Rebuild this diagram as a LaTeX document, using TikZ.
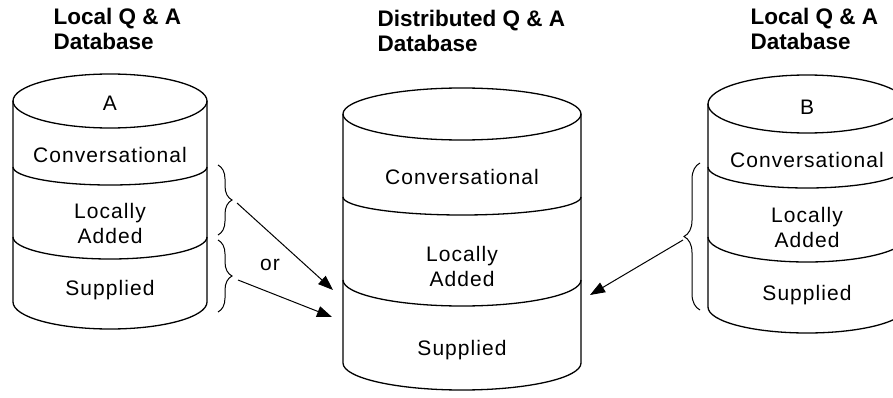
\documentclass[tikz,border=0pt]{standalone}
\usepackage{fontspec}
\setmainfont{Liberation Sans}
\usetikzlibrary{arrows.meta,decorations.pathreplacing}

\begin{document}
\begin{tikzpicture}[x=1pt,y=1pt,
  line width=1.3pt,
  lbl/.style={font=\fontsize{21}{25}\selectfont\addfontfeature{LetterSpace=5},
              align=center, inner sep=0pt},
  ttl/.style={font=\fontsize{22.5}{25}\selectfont\bfseries, align=left,
              anchor=base west, inner sep=0pt},
  brc/.style={decorate, decoration={brace, amplitude=#1}, line width=1pt},
  arr/.style={-{Triangle[length=15pt,width=11pt]}, line width=1pt}]
\useasboundingbox (0,0) rectangle (893,397);
\clip (0,0) rectangle (893,397);

% ---- local database A ----
\draw (110,296) ellipse (97 and 27);
\draw (13,296) -- (13,95) arc (180:360:97 and 27) -- (207,296);
\draw (13,230) arc (180:360:97 and 18);
\draw (13,160) arc (180:360:97 and 22);
\node[ttl] (tA) at (53,347) {Local Q \& A\\Database};
\node[lbl] (nA) at (110,294) {A};
\node[lbl] (aConv) at (110,242) {Conversational};
\node[lbl] (aLoc) at (110,174) {Locally\\Added};
\node[lbl] (aSup) at (110,107) {Supplied};

% ---- distributed database ----
\draw (462,283) ellipse (119 and 26);
\draw (343,283) -- (343,34) arc (180:360:119 and 27) -- (581,283);
\draw (343,200) arc (180:360:119 and 18);
\draw (343,117) arc (180:360:119 and 26);
\node[ttl] (tD) at (377,345) {Distributed Q \& A\\Database};
\node[lbl] (dConv) at (462,220) {Conversational};
\node[lbl] (dLoc) at (462,131) {Locally\\Added};
\node[lbl] (dSup) at (462,47) {Supplied};

% ---- local database B ----
\draw (807,293) ellipse (99 and 29);
\draw (708,293) -- (708,90) arc (180:360:99 and 26) -- (906,293);
\draw (708,230) arc (180:360:99 and 21);
\draw (708,160) arc (180:360:99 and 25);
\node[ttl] (tB) at (750,347) {Local Q \& A\\Database};
\node[lbl] (nB) at (807,290) {B};
\node[lbl] (bConv) at (807,237) {Conversational};
\node[lbl] (bLoc) at (807,170) {Locally\\Added};
\node[lbl] (bSup) at (807,102) {Supplied};

% ---- braces grouping the transferred sections ----
\draw[brc=14pt] (218,232) -- (218,162);
\draw[brc=14pt] (218,157) -- (218,85);
\draw[brc=16pt] (700,87) -- (700,234);

% ---- transfer arrows ----
\coordinate (a1s) at (237,194);
\coordinate (a1e) at (333,107);
\coordinate (a2s) at (238,117);
\coordinate (a2e) at (332,80);
\coordinate (bs) at (683,157);
\coordinate (be) at (590,102);
\draw[arr] (a1s) -- (a1e);
\draw[arr] (a2s) -- (a2e);
\draw[arr] (bs) -- (be);
\node[lbl] (orlbl) at (270,132) {or};
\end{tikzpicture}
\end{document}
